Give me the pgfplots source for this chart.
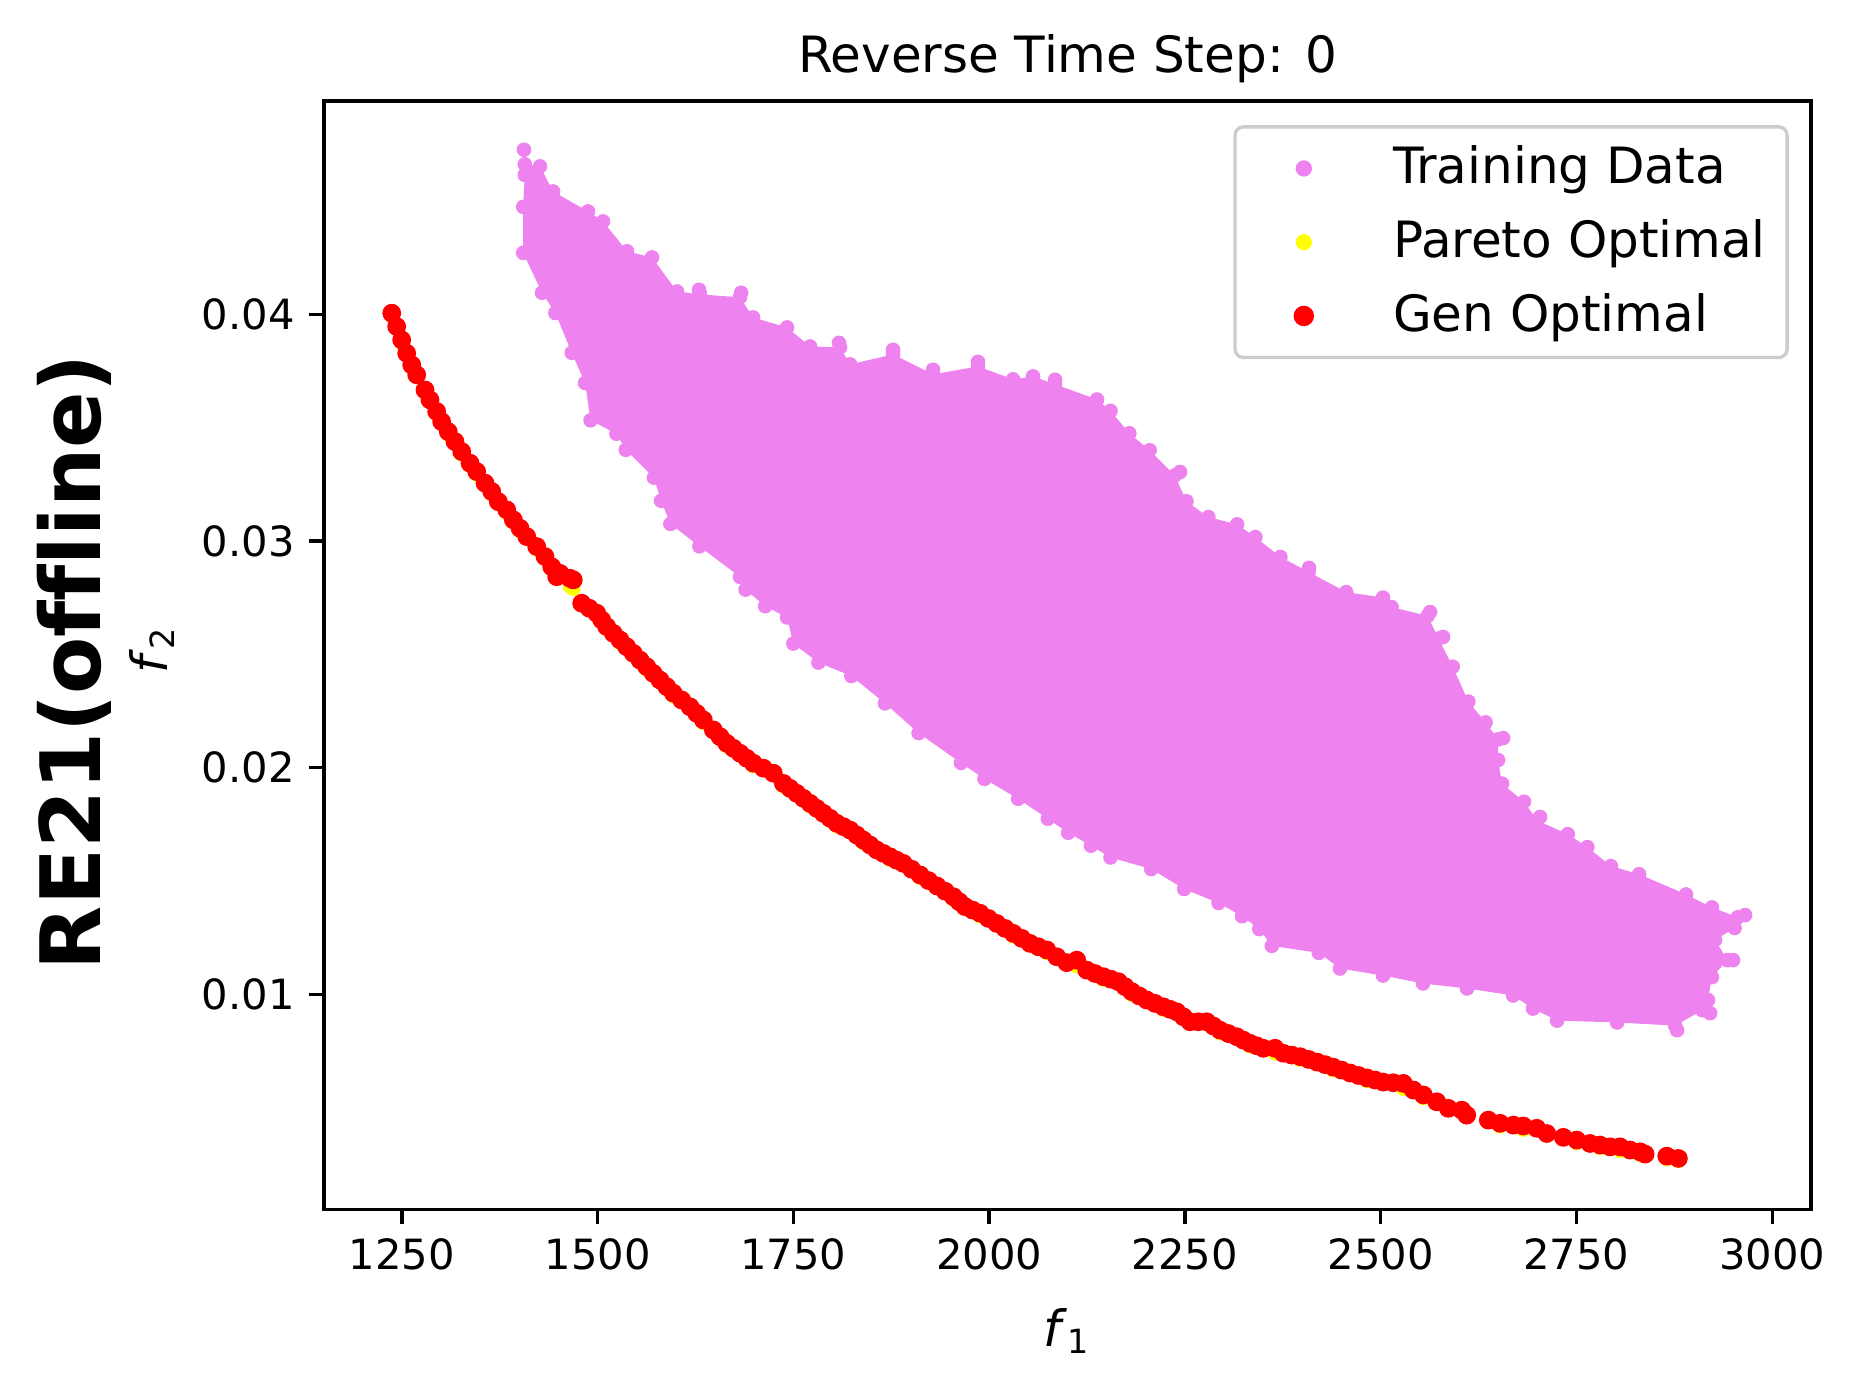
\documentclass[border=0pt]{standalone}
\usepackage{fontspec}
\setmainfont[Ligatures=NoCommon]{DejaVu Sans}
\usepackage{pgfplots}
\pgfplotsset{compat=1.18}
\definecolor{mviolet}{HTML}{EE82EE}
\definecolor{myellow}{HTML}{FFFF00}
\definecolor{mred}{HTML}{FF0000}

\begin{document}
\begin{tikzpicture}
\path[use as bounding box] (0pt,0pt) rectangle (443.76pt,332.4pt);
\begin{axis}[
  at={(77.76pt,42.2pt)}, anchor=south west,
  scale only axis, width=356.9pt, height=266pt,
  xmin=1150.6, xmax=3049.7, ymin=0.00052, ymax=0.04943,
  axis line style={line width=0.8pt, black},
  tick align=outside, xtick pos=bottom, ytick pos=left,
  major tick length=3.5pt,
  every tick/.style={line width=0.8pt, black},
  xtick={1250,1500,1750,2000,2250,2500,2750,3000},
  ytick={0.01,0.02,0.03,0.04},
  scaled y ticks=false,
  /pgf/number format/assume math mode=true,
  xticklabel style={/pgf/number format/1000 sep={}, font=\fontsize{10}{12}\selectfont},
  yticklabel style={/pgf/number format/.cd, fixed, precision=2, fixed zerofill, /tikz/.cd, font=\fontsize{10}{12}\selectfont},
  title={Reverse Time Step: 0},
  title style={font=\fontsize{12}{14}\selectfont, at={(axis description cs:0.5,1)}, anchor=base, yshift=0.7pt},
  xlabel={\textit{f}\textsubscript{1}},
  xlabel style={font=\fontsize{12}{14}\selectfont, at={(axis description cs:0.5,-0.076)}, anchor=north},
  ylabel={\textit{f}\textsubscript{2}},
  ylabel style={font=\fontsize{12}{14}\selectfont, at={(axis description cs:-0.1158,0.505)}, anchor=center},
  legend cell align=left,
  legend image code/.code={%
    \path[draw=none, fill=none] (-11.4pt,-3pt) rectangle (3pt,3pt);
    \draw[#1] plot coordinates {(0pt,0pt)};},
  legend style={at={(rel axis cs:0.985,0.978)}, anchor=north east,
    draw=black!20, line width=0.8pt, rounded corners=2pt, fill=white,
    font=\fontsize{12}{14}\selectfont,
    inner xsep=5.1pt, inner ysep=4.3pt, row sep=6.35pt, column sep=18.45pt,
    nodes={inner sep=0pt, text height=9.35pt, text depth=2.0pt}},
]

% body of the dense training cloud
\addplot[fill=mviolet, draw=none, forget plot] coordinates {
(1407,0.04663) (1426.5,0.04654) (1443.1,0.04543) (1487.8,0.04455)
(1506.9,0.04411) (1537.6,0.04279) (1569.5,0.04252) (1601.4,0.04102)
(1630.8,0.04089) (1681.9,0.04076) (1698.5,0.03987) (1741.9,0.03943)
(1771.3,0.03859) (1809.6,0.03855) (1822.4,0.03780) (1877.3,0.03824)
(1928.4,0.03736) (1985.8,0.03771) (2030.5,0.03714) (2056.1,0.03727)
(2084.2,0.03692) (2137.8,0.03625) (2155,0.03575) (2179,0.03476)
(2205,0.03401) (2237,0.03290) (2252,0.03176) (2280,0.03106)
(2316.6,0.03074) (2340,0.03018) (2372,0.02930) (2408,0.02864)
(2456,0.02775) (2503,0.02751) (2514,0.02709) (2560,0.02670)
(2574,0.02570) (2592,0.02446) (2612,0.02292) (2634,0.02200)
(2650,0.02125) (2650,0.02034) (2655,0.01930) (2683,0.01850)
(2700,0.01767) (2739,0.01707) (2764,0.01650) (2794,0.01566)
(2830,0.01530) (2890,0.01441) (2923,0.01384) (2956,0.01340)
(2952,0.01293) (2927,0.01240) (2943,0.01151) (2923,0.01076)
(2918,0.00975) (2911,0.00930) (2876,0.00862) (2801.9,0.00876)
(2725.3,0.00884) (2694.6,0.00937) (2669.1,0.00995) (2610.3,0.01026)
(2554.1,0.01048) (2503.0,0.01083) (2448.1,0.01114) (2421,0.01183)
(2361,0.01214) (2345,0.01288) (2323,0.01345) (2293,0.01403)
(2249,0.01465) (2207,0.01553) (2155,0.01604) (2130,0.01656)
(2101,0.01713) (2075,0.01775) (2037,0.01863) (1994,0.01951)
(1964,0.02021) (1910,0.02153) (1867,0.02284) (1824,0.02405)
(1782,0.02464) (1750,0.02548) (1742,0.02663) (1714,0.02713)
(1689,0.02786) (1682,0.02842) (1630,0.02977) (1593,0.03076)
(1581,0.03178) (1572,0.03280) (1536,0.03403) (1524,0.03474)
(1491,0.03533) (1484,0.03698) (1467,0.03831) (1446,0.04007)
(1429,0.04096) (1405,0.04272) (1405,0.04475) (1407,0.04616)
} -- cycle;

% training points on the fringe of the cloud
\addplot[only marks, mark=*, mark size=1.55pt, color=mviolet] coordinates {
(1407,0.04663) (1426.5,0.04654) (1443.1,0.04543) (1487.8,0.04455)
(1506.9,0.04411) (1537.6,0.04279) (1569.5,0.04252) (1601.4,0.04102)
(1630.8,0.04089) (1681.9,0.04076) (1698.5,0.03987) (1741.9,0.03943)
(1771.3,0.03859) (1809.6,0.03855) (1822.4,0.03780) (1877.3,0.03824)
(1928.4,0.03736) (1985.8,0.03771) (2030.5,0.03714) (2056.1,0.03727)
(2084.2,0.03692) (2137.8,0.03625) (2155,0.03575) (2179,0.03476)
(2205,0.03401) (2237,0.03290) (2252,0.03176) (2280,0.03106)
(2316.6,0.03074) (2340,0.03018) (2372,0.02930) (2408,0.02864)
(2456,0.02775) (2503,0.02751) (2514,0.02709) (2560,0.02670)
(2574,0.02570) (2592,0.02446) (2612,0.02292) (2634,0.02200)
(2650,0.02125) (2650,0.02034) (2655,0.01930) (2683,0.01850)
(2700,0.01767) (2739,0.01707) (2764,0.01650) (2794,0.01566)
(2830,0.01530) (2890,0.01441) (2923,0.01384) (2956,0.01340)
(2952,0.01293) (2927,0.01240) (2943,0.01151) (2923,0.01076)
(2918,0.00975) (2911,0.00930) (2876,0.00862) (2801.9,0.00876)
(2725.3,0.00884) (2694.6,0.00937) (2669.1,0.00995) (2610.3,0.01026)
(2554.1,0.01048) (2503.0,0.01083) (2448.1,0.01114) (2421,0.01183)
(2361,0.01214) (2345,0.01288) (2323,0.01345) (2293,0.01403)
(2249,0.01465) (2207,0.01553) (2155,0.01604) (2130,0.01656)
(2101,0.01713) (2075,0.01775) (2037,0.01863) (1994,0.01951)
(1964,0.02021) (1910,0.02153) (1867,0.02284) (1824,0.02405)
(1782,0.02464) (1750,0.02548) (1742,0.02663) (1714,0.02713)
(1689,0.02786) (1682,0.02842) (1630,0.02977) (1593,0.03076)
(1581,0.03178) (1572,0.03280) (1536,0.03403) (1524,0.03474)
(1491,0.03533) (1484,0.03698) (1467,0.03831) (1446,0.04007)
(1429,0.04096) (1405,0.04272) (1405,0.04475) (1407,0.04616)
(1406.0,0.04727) (1629.5,0.04109) (1683.2,0.04096) (1808.3,0.03875)
(1985.8,0.03791) (1928.4,0.03756) (1877.3,0.03844) (2084.2,0.03712)
(2243.8,0.03305) (2408.5,0.02882) (2563.1,0.02687) (2579.7,0.02577)
(2656.3,0.02131) (2703.6,0.01783) (2965.4,0.01350) (2950.0,0.01151)
(2920.7,0.00917) (2878.5,0.00842)
};
\addlegendentry{Training Data}

% true Pareto front
\addplot[only marks, mark=*, mark size=1.55pt, color=myellow] coordinates {
(1237.1,0.03993) (1249.8,0.03875) (1262.6,0.03765) (1279.6,0.03654)
(1294.5,0.03559) (1309.3,0.03470) (1326.5,0.03382) (1345.6,0.03294)
(1364.8,0.03206) (1383.9,0.03125) (1400.9,0.03044) (1422.2,0.02963)
(1441.4,0.02874) (1464.8,0.02800) (1469.0,0.02790) (1498.9,0.02669)
(1528.6,0.02551) (1562.7,0.02433) (1596.7,0.02316) (1635.0,0.02198)
(1664.9,0.02095) (1698.9,0.02007) (1737.2,0.01918) (1771.3,0.01830)
(1805.4,0.01742) (1839.3,0.01668) (1873.4,0.01594) (1911.8,0.01514)
(1954.3,0.01418) (1988.4,0.01345) (2030.9,0.01256) (2073.6,0.01183)
(2111.9,0.01125) (2145.8,0.01065) (2182.1,0.00999) (2222.5,0.00932)
(2256.6,0.00870) (2294.9,0.00829) (2333.2,0.00771) (2365.1,0.00740)
(2397.1,0.00712) (2439.2,0.00666) (2482.6,0.00618) (2529.0,0.00584)
(2554.5,0.00543) (2586.4,0.00500) (2609.9,0.00465) (2652.5,0.00418)
(2682.2,0.00403) (2712.1,0.00378) (2750.4,0.00344) (2780.2,0.00322)
(2805.7,0.00310) (2831.3,0.00292) (2865.4,0.00273) (2880.2,0.00266)
};
\addlegendentry{Pareto Optimal}

% generated solutions
\addplot[only marks, mark=*, mark size=2.05pt, color=mred] coordinates {
(1237.1,0.04006) (1243.4,0.03947) (1249.8,0.03888) (1256.2,0.03829)
(1262.6,0.03778) (1269.0,0.03734) (1279.6,0.03667) (1286.0,0.03623)
(1294.5,0.03572) (1300.9,0.03527) (1309.3,0.03483) (1317.9,0.03439)
(1326.5,0.03395) (1337.1,0.03344) (1345.6,0.03307) (1356.2,0.03256)
(1364.8,0.03219) (1373.2,0.03174) (1383.9,0.03138) (1392.4,0.03094)
(1400.9,0.03057) (1409.5,0.03020) (1422.2,0.02976) (1432.8,0.02932)
(1441.4,0.02887) (1452.0,0.02858) (1464.8,0.02836) (1447.8,0.02843)
(1469.0,0.02829) (1479.7,0.02726) (1489.3,0.02704) (1498.9,0.02682)
(1505.3,0.02652) (1511.6,0.02623) (1520.1,0.02593) (1528.6,0.02564)
(1537.1,0.02534) (1545.6,0.02505) (1554.2,0.02475) (1562.7,0.02446)
(1571.2,0.02416) (1579.7,0.02387) (1588.2,0.02358) (1596.7,0.02329)
(1607.4,0.02299) (1618.0,0.02269) (1626.5,0.02240) (1635.0,0.02211)
(1647.8,0.02167) (1656.4,0.02137) (1664.9,0.02108) (1673.4,0.02086)
(1681.9,0.02064) (1690.4,0.02042) (1698.9,0.02020) (1711.7,0.01998)
(1724.4,0.01976) (1737.2,0.01931) (1745.8,0.01909) (1754.3,0.01887)
(1762.8,0.01865) (1771.3,0.01843) (1779.8,0.01821) (1788.3,0.01799)
(1796.9,0.01777) (1805.4,0.01755) (1813.9,0.01740) (1822.4,0.01725)
(1830.9,0.01703) (1839.3,0.01681) (1847.9,0.01659) (1856.5,0.01637)
(1865.0,0.01622) (1873.4,0.01607) (1881.9,0.01592) (1890.4,0.01578)
(1901.1,0.01552) (1911.8,0.01527) (1922.7,0.01502) (1933.5,0.01478)
(1943.9,0.01455) (1954.3,0.01431) (1961.8,0.01409) (1969.2,0.01387)
(1978.8,0.01372) (1988.4,0.01358) (1999.1,0.01335) (2009.7,0.01313)
(2020.3,0.01291) (2030.9,0.01269) (2041.6,0.01247) (2052.2,0.01225)
(2062.9,0.01210) (2073.6,0.01196) (2086.3,0.01166) (2099.1,0.01140)
(2111.9,0.01151) (2124.6,0.01107) (2135.2,0.01092) (2145.8,0.01078)
(2155.4,0.01067) (2165.0,0.01056) (2173.5,0.01034) (2182.1,0.01012)
(2191.7,0.00993) (2201.3,0.00975) (2211.9,0.00960) (2222.5,0.00945)
(2231.0,0.00934) (2239.6,0.00923) (2248.1,0.00901) (2256.6,0.00879)
(2267.2,0.00879) (2277.9,0.00879) (2286.4,0.00860) (2294.9,0.00842)
(2305.5,0.00827) (2316.2,0.00813) (2324.7,0.00798) (2333.2,0.00784)
(2341.7,0.00773) (2350.2,0.00762) (2365.1,0.00762) (2375.7,0.00740)
(2386.4,0.00732) (2397.1,0.00725) (2408.0,0.00713) (2418.8,0.00701)
(2429.0,0.00690) (2439.2,0.00679) (2450.0,0.00666) (2460.9,0.00653)
(2471.7,0.00642) (2482.6,0.00631) (2492.8,0.00622) (2503.1,0.00613)
(2516.0,0.00610) (2529.0,0.00607) (2541.7,0.00578) (2554.5,0.00556)
(2571.6,0.00526) (2586.4,0.00497) (2603.6,0.00489) (2609.9,0.00467)
(2637.5,0.00445) (2652.5,0.00431) (2669.5,0.00423) (2682.2,0.00419)
(2699.3,0.00409) (2712.1,0.00386) (2733.3,0.00369) (2750.4,0.00357)
(2767.4,0.00342) (2780.2,0.00335) (2793.0,0.00327) (2805.7,0.00327)
(2818.5,0.00313) (2831.3,0.00305) (2837.7,0.00295) (2865.4,0.00286)
(2880.2,0.00276)
};
\addlegendentry{Gen Optimal}
\end{axis}
\node[rotate=90, font=\fontsize{20}{24}\selectfont\bfseries] at (17.8pt,173.5pt) {RE21(offline)};
\end{tikzpicture}
\end{document}
